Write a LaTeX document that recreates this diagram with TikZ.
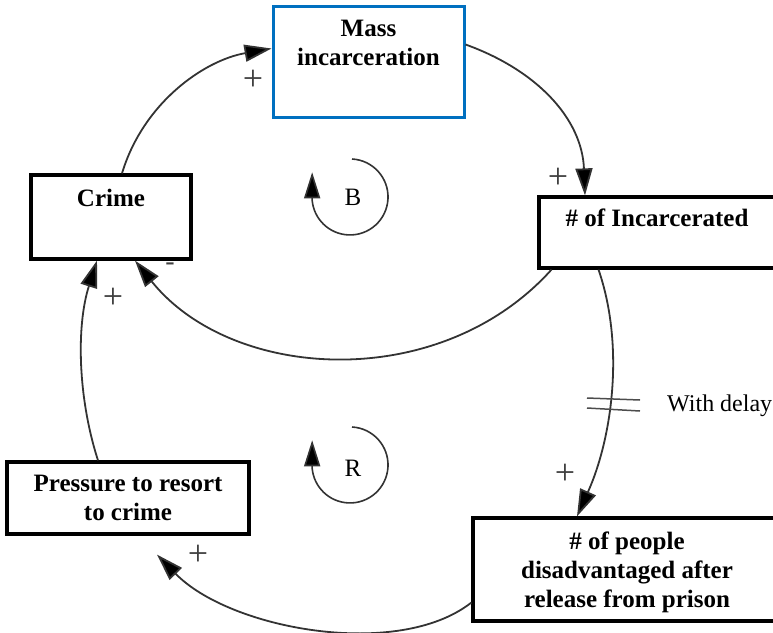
\documentclass[tikz,border=0pt]{standalone}
\usepackage{fontspec}
\setmainfont{Liberation Serif}
\usetikzlibrary{arrows.meta}
\definecolor{boxblue}{HTML}{0070C0}
\definecolor{linkgray}{HTML}{333333}
\begin{document}
\begin{tikzpicture}[x=1pt,y=-1pt,
  box/.style={draw=black, line width=3.2pt, fill=white, inner sep=0pt},
  bluebox/.style={box, draw=boxblue, line width=3pt},
  boxtext/.style={font=\fontsize{25}{29}\selectfont\bfseries, align=center, inner sep=0pt, anchor=north},
  link/.style={draw=linkgray, line width=1.8pt, -{Triangle[length=27pt,width=17pt,fill=black]}},
  polarity/.style={font=\fontsize{36}{36}\selectfont, text=black!75, inner sep=0pt},
  loopmark/.style={draw=linkgray, line width=1.6pt, -{Triangle[length=26pt,width=16pt,fill=black]}},
  loopletter/.style={font=\fontsize{25}{25}\selectfont, inner sep=0pt},
  delaymark/.style={draw=black!70, line width=1.5pt},
  delaytext/.style={font=\fontsize{24}{24}\selectfont, inner sep=0pt, anchor=base west}
]
\useasboundingbox (0,0) rectangle (773,632);
\clip (0,0) rectangle (773,632);

% stocks and variables
\node[bluebox, minimum width=191pt, minimum height=111pt] (mass) at (368.5,61.5) {};
\node[boxtext] (massT) at (368.5,20) {Mass\\incarceration};
\node[box, minimum width=160pt, minimum height=84pt] (crime) at (111,217) {};
\node[boxtext] (crimeT) at (111,189) {Crime};
\node[box, minimum width=241pt, minimum height=71pt] (inc) at (659.5,232.5) {};
\node[boxtext] (incT) at (657,209) {\# of Incarcerated};
\node[box, minimum width=242pt, minimum height=72pt] (pressure) at (128,498) {};
\node[boxtext] (pressureT) at (128,475) {Pressure to resort\\to crime};
\node[box, minimum width=308pt, minimum height=103pt] (people) at (627,569.5) {};
\node[boxtext] (peopleT) at (627,532) {\# of people\\disadvantaged after\\release from prison};

% causal links
\draw[link] ([shift={(11,0)}]crime.north) .. controls +(21,-70) and +(-68,12) .. ([shift={(0,-13)}]mass.west);
\draw[link] ([shift={(0,-17)}]mass.east) .. controls +(71,25.5) and +(-3,-77) .. ([shift={(-74.5,0)}]inc.north);
\draw[link] ([shift={(-108,0)}]inc.south) .. controls +(-111.5,124) and +(97,121) .. ([shift={(24,0)}]crime.south);
\draw[link] ([shift={(-61,0)}]inc.south) .. controls +(26.5,77) and +(35,-78) .. ([shift={(-50,0)}]people.north);
\draw[link] ([shift={(0,33)}]people.west) .. controls +(-73,57.5) and +(73,75) .. ([shift={(29,19)}]pressure.south);
\draw[link] ([shift={(-30,0)}]pressure.north) .. controls +(-20,-62) and +(-21,66) .. ([shift={(-14,0)}]crime.south);

% delay mark
\draw[delaymark] (587,398) -- (640,400);
\draw[delaymark] (587,408) -- (640,411);
\node[delaytext] (delay) at (667,411) {With delay};

% polarities
\node[polarity] (s1) at (253,80) {+};
\node[polarity] (s2) at (558,178) {+};
\node[polarity, font=\fontsize{28}{28}\selectfont] (s3) at (170,267) {-};
\node[polarity] (s4) at (113,298) {+};
\node[polarity] (s5) at (565,474) {+};
\node[polarity] (s6) at (198,555) {+};

% loop markers
\node[loopletter] (loopB) at (353,197) {B};
\draw[loopmark] ([shift={(-1,-38)}]loopB.center) arc[start angle=-87, end angle=175, radius=38] -- ++(0,-28);
\node[loopletter] (loopR) at (353,468) {R};
\draw[loopmark] ([shift={(-1,-41)}]loopR.center) arc[start angle=-87, end angle=175, radius=38] -- ++(0,-28);
\end{tikzpicture}
\end{document}
